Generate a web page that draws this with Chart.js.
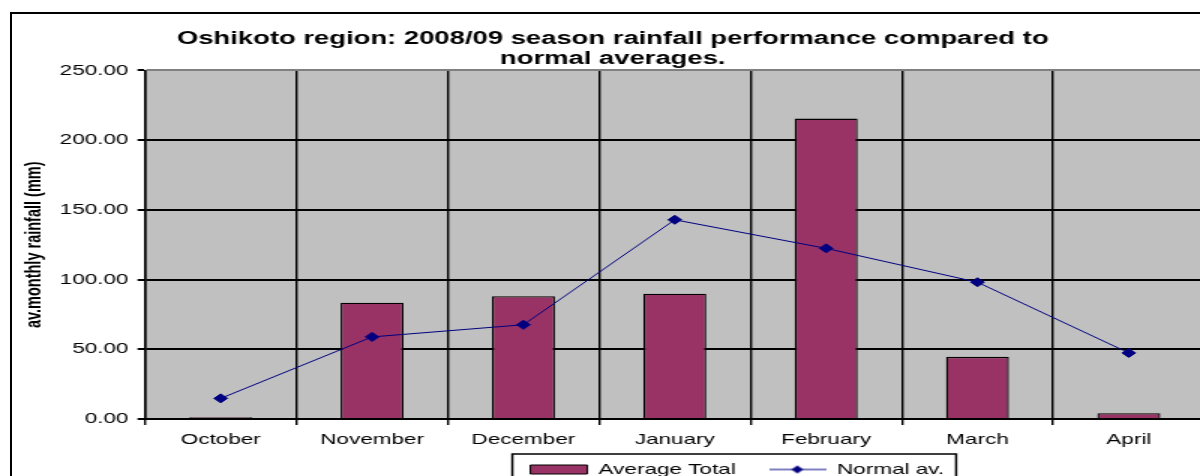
<!DOCTYPE html>
<html><head><meta charset="utf-8">
<script src="https://cdn.jsdelivr.net/npm/chart.js@4/dist/chart.umd.min.js"></script>
<style>
html,body{margin:0;padding:0;background:#fff;overflow:hidden;width:1200px;height:476px;}
#frame{position:absolute;left:10px;top:12px;width:1300px;height:600px;border:2px solid #000;box-sizing:border-box;}
#wrap{position:absolute;left:0;top:0;width:820px;height:502px;transform:scaleX(1.5);transform-origin:0 0;}
</style></head><body>
<div id="frame"></div>
<div id="wrap"><canvas id="c" width="820" height="502"></canvas></div>
<script>
const categories = ['October', 'November', 'December', 'January', 'February', 'March', 'April'];
const averageTotal = [1.2, 83.4, 88.1, 89.8, 215.5, 44.6, 4.1];
const normalAv = [14.8, 58.9, 67.6, 142.9, 122.4, 98.1, 47.4];
const seriesNames = ['Average Total', 'Normal av.'];
const titleLines = ['Oshikoto region: 2008/09 season rainfall performance compared to', 'normal averages.'];
const yAxisTitle = 'av.monthly rainfall (mm)';
const yMin = 0, yMax = 250, yStep = 50;

const FONT = "'Liberation Sans', Arial, sans-serif";
const BAR = '#993366';
const LINE = '#000080';

// legend sample for the line series (line + diamond)
const lineSample = document.createElement('canvas');
lineSample.width = 38; lineSample.height = 10;
(function(){
  const g = lineSample.getContext('2d');
  g.strokeStyle = LINE; g.lineWidth = 1;
  g.beginPath(); g.moveTo(0, 5); g.lineTo(38, 5); g.stroke();
  g.fillStyle = LINE;
  g.beginPath(); g.moveTo(19, 1); g.lineTo(23, 5); g.lineTo(19, 9); g.lineTo(15, 5); g.closePath(); g.fill();
})();

const areaBg = {
  id: 'areaBg',
  beforeDraw(chart) {
    const {ctx, chartArea: a} = chart;
    ctx.save(); ctx.fillStyle = '#c0c0c0';
    ctx.fillRect(a.left, a.top, a.right - a.left, a.bottom - a.top);
    ctx.restore();
  }
};
const legendPlace = {
  id: 'legendPlace',
  afterLayout(chart) {
    const L = chart.legend;
    L.left += 83; L.right += 83;
    L.top -= 15; L.bottom -= 15;
  },
  afterDraw(chart) {
    const hb = chart.legend.legendHitBoxes;
    if (!hb || !hb.length) return;
    const last = hb[hb.length - 1];
    const ctx = chart.ctx;
    ctx.save(); ctx.strokeStyle = '#000'; ctx.lineWidth = 1.5;
    const l = hb[0].left - 12, r = last.left + last.width + 8, t = hb[0].top - 8;
    ctx.strokeRect(l, t, r - l, 60);
    ctx.restore();
  }
};

new Chart(document.getElementById('c'), {
  data: {
    labels: categories,
    datasets: [
      { type: 'bar', label: seriesNames[0], data: averageTotal, backgroundColor: BAR, borderColor: '#000', borderWidth: 1.3, order: 2,
        categoryPercentage: 1, barPercentage: 0.416 },
      { type: 'line', label: seriesNames[1], data: normalAv, borderColor: LINE, backgroundColor: LINE, borderWidth: 1,
        pointStyle: 'rectRot', pointRadius: 4.5, pointBackgroundColor: LINE, pointBorderColor: LINE, pointBorderWidth: 1, order: 1, tension: 0 }
    ]
  },
  options: {
    responsive: false,
    animation: false,
    devicePixelRatio: 1,
    layout: { padding: { left: 14, right: 17, top: 28.5, bottom: 0 } },
    plugins: {
      tooltip: { enabled: false },
      title: {
        display: true, text: titleLines, color: '#000',
        font: { family: FONT, size: 18.3, weight: 'bold', lineHeight: 1.12 },
        padding: { top: 0, bottom: 1 }
      },
      legend: {
        position: 'bottom', align: 'center',
        labels: {
          color: '#000', font: { family: FONT, size: 15 }, padding: 22,
          usePointStyle: true, pointStyleWidth: 38, boxWidth: 38, boxHeight: 9,
          generateLabels(chart) {
            return [
              { text: seriesNames[0], fillStyle: BAR, strokeStyle: '#000', lineWidth: 1, pointStyle: 'rect', datasetIndex: 0, fontColor: '#000' },
              { text: seriesNames[1], fillStyle: LINE, strokeStyle: LINE, lineWidth: 0, pointStyle: lineSample, datasetIndex: 1, fontColor: '#000' }
            ];
          }
        }
      }
    },
    scales: {
      x: {
        type: 'category',
        offset: true,
        grid: { offset: true, color: '#000', lineWidth: 1.4, tickLength: 6, tickColor: '#000', drawOnChartArea: true },
        border: { color: '#000', width: 2 },
        ticks: { color: '#000', font: { family: FONT, size: 15 }, padding: 6, maxRotation: 0 }
      },
      y: {
        min: yMin, max: yMax,
        afterFit(s) { s.width = 96.7 - 14; },
        ticks: { stepSize: yStep, color: '#000', font: { family: FONT, size: 15 }, padding: 6,
          callback: v => Number(v).toFixed(2) },
        grid: { color: c => (c.tick && c.tick.value === yMax) ? '#808080' : '#000', lineWidth: 2, tickLength: 5, tickColor: '#000' },
        border: { color: '#000', width: 1.5 },
        title: { display: true, text: yAxisTitle, color: '#000', font: { family: FONT, size: 14.5, weight: 'bold', lineHeight: 1.2 }, padding: 0 }
      }
    }
  },
  plugins: [areaBg, legendPlace]
});
</script>
</body></html>
